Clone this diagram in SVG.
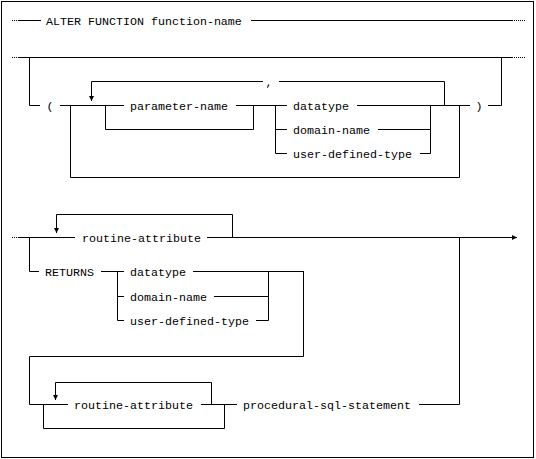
<svg xmlns="http://www.w3.org/2000/svg" width="536" height="459" viewBox="0 0 536 459">
<style>
text{font-family:"Liberation Mono","Courier New",monospace;font-size:11.67px;fill:#000}
.c{fill:none;stroke:#000;stroke-width:1}
.d{fill:none;stroke:#000;stroke-width:1;stroke-dasharray:1 1}
.a{marker-end:url(#ah)}
</style>
<defs>
<marker id="ah" markerUnits="userSpaceOnUse" markerWidth="6" markerHeight="6" refX="5" refY="3" orient="auto">
<path d="M0,0.5 L5,3 L0,5.5 z" fill="#000"/>
</marker>
</defs>
<rect x="1.5" y="1.5" width="532" height="456" fill="#fff" stroke="#000"/>
<g id="connectors">
<path class="d" d="M12 20.5 H18 M514 20.5 H525 M12 57.5 H18 M514 57.5 H525 M12 237.5 H18"/>
<path class="c" d="M18 20.5 H41 M251 20.5 H513"/>
<path class="c" d="M18 57.5 H513"/>
<path class="c" d="M29.5 57 V105.5 H40"/>
<path class="c" d="M60 105.5 H124 M236 105.5 H287 M357 105.5 H470 M488 105.5 H501.5 V57"/>
<path class="c" d="M70.5 105 V177.5 H459.5 V105"/>
<path class="c" d="M444.5 105 V81.5 H279"/>
<path class="c a" d="M263 81.5 H91.5 V101"/>
<path class="c" d="M105.5 105 V129.5 H253.5 V105"/>
<path class="c" d="M275.5 105 V153.5 H287 M275.5 129.5 H287"/>
<path class="c" d="M378 129.5 H430.5 M420 153.5 H430.5 V105"/>
<path class="c" d="M18 237.5 H75"/>
<path class="c a" d="M207 237.5 H517"/>
<path class="c a" d="M232.5 237 V214.5 H56.5 V233"/>
<path class="c" d="M29.5 237 V271.5 H39"/>
<path class="c" d="M101 271.5 H124 M117.5 271.5 V320.5 H124 M117.5 296.5 H124"/>
<path class="c" d="M193 271.5 H303.5 M214 296.5 H268.5 M256 320.5 H268.5 V271"/>
<path class="c" d="M303.5 271 V356.5 H29.5 V404.5 H68"/>
<path class="c" d="M201 404.5 H237 M419 404.5 H459.5 V237"/>
<path class="c a" d="M211.5 404 V382.5 H55.5 V400"/>
<path class="c" d="M43.5 404 V428.5 H224.5 V404"/>
</g>
<g id="n-alter"><text x="46" y="24.5">ALTER FUNCTION function-name</text></g>
<g id="n-lparen"><text x="50" y="109.5" text-anchor="middle">(</text></g>
<g id="n-comma"><text x="269" y="85.5" text-anchor="middle">,</text></g>
<g id="n-parameter-name"><text x="130" y="109.5">parameter-name</text></g>
<g id="n-datatype-1"><text x="293" y="109.5">datatype</text></g>
<g id="n-domain-name-1"><text x="293" y="133.5">domain-name</text></g>
<g id="n-udt-1"><text x="293" y="157.5">user-defined-type</text></g>
<g id="n-rparen"><text x="479" y="109.5" text-anchor="middle">)</text></g>
<g id="n-routine-attribute-1"><text x="82" y="241.5">routine-attribute</text></g>
<g id="n-returns"><text x="45" y="275.5">RETURNS</text></g>
<g id="n-datatype-2"><text x="130" y="275.5">datatype</text></g>
<g id="n-domain-name-2"><text x="130" y="300.5">domain-name</text></g>
<g id="n-udt-2"><text x="130" y="324.5">user-defined-type</text></g>
<g id="n-routine-attribute-2"><text x="74" y="408.5">routine-attribute</text></g>
<g id="n-procedural"><text x="243" y="408.5">procedural-sql-statement</text></g>
</svg>
